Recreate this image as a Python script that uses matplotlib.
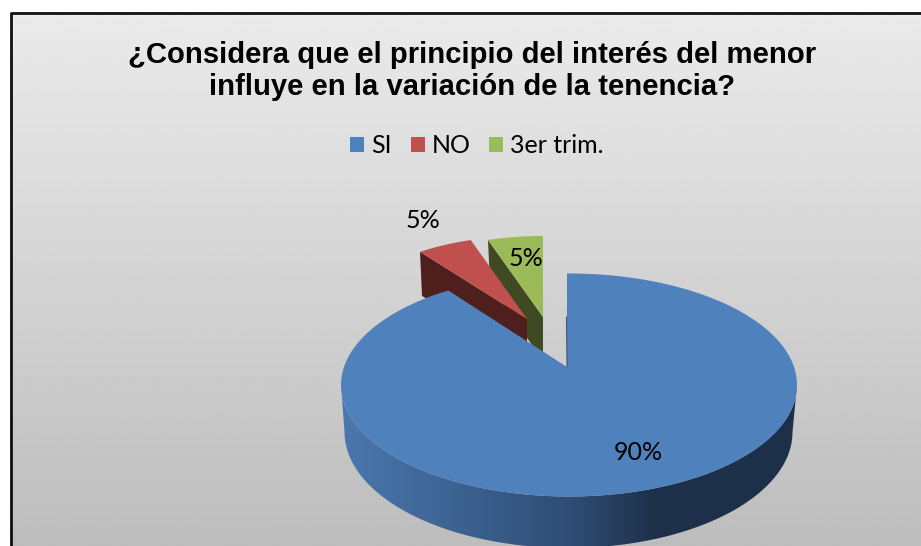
import numpy as np
import matplotlib
matplotlib.use('Agg')
import matplotlib.pyplot as plt
from matplotlib.patches import Polygon, Patch

# data
labels = ['SI', 'NO', '3er trim.']
values = [90, 5, 5]
colors = ['#4f81bd', '#c0504d', '#9bbb59']
wall_colors = ['#2f4d75', '#4f1f1d', '#3f4a22']
title = '¿Considera que el principio del interés del menor\ninfluye en la variación de la tenencia?'

# geometry of the fake 3d pie, in pixels of the picture
apex = [(567, 367), (527, 319), (543, 317)]
center = [(569, 385), (527, 319), (543, 317)]
radius = [(228, 111.5), (182, 83), (178, 81)]
depth = 47
label_pos = [(638, 453), (423, 221), (526, 258)]
W, H = 921, 546


def rim(c, r, a0, a1, n=200):
    t = np.radians(np.linspace(a0, a1, n))
    return np.column_stack([c[0] + r[0]*np.sin(t), c[1] - r[1]*np.cos(t)])


fig = plt.figure(figsize=(W/100, H/100), dpi=100)
ax = fig.add_axes([0, 0, 1, 1])
ax.axis('off')

# background with frame
grad = np.linspace(0.92, 0.74, 256).reshape(-1, 1)
ax.imshow(grad, cmap='gray', vmin=0, vmax=1, extent=[10, W, H, 12], aspect='auto', zorder=0)
ax.plot([10.5, 10.5, W], [H, 12.5, 12.5], color='#111111', lw=2, zorder=1)

# angles from the values, clockwise from 12 o'clock
shares = np.array(values)/sum(values)*360
ends = np.cumsum(shares)
starts = ends - shares
ends_sk = ends.copy()
ends_sk[0] += 4  # perspective of the big slice

# small slices, back to front: green, then red
for i in [2, 1]:
    edge = rim(center[i], radius[i], starts[i], ends[i], 40)
    a = np.array(apex[i], dtype=float)
    wall = np.array([edge[0], edge[0]+[2, depth-3], a+[0, depth-3], a])
    ax.add_patch(Polygon(wall, closed=True, fc=wall_colors[i], ec='none', zorder=2+(2-i)))
    ax.add_patch(Polygon(np.vstack([a, edge]), closed=True, fc=colors[i], ec='none', zorder=2+(2-i)))

# big slice: side wall with gradient, then the top
front = rim(center[0], radius[0], 90, 270)
low = rim((center[0][0]-0.5, center[0][1]+depth), (224, 116), 90, 270)
wall = Polygon(np.vstack([front, low[::-1]]), closed=True, fc='none', ec='none', zorder=5)
ax.add_patch(wall)
shade = np.zeros((2, 256, 3))
left = np.array([0x4a, 0x78, 0xae])/255
mid = np.array([0x2f, 0x4d, 0x75])/255
right = np.array([0x1d, 0x30, 0x4a])/255
x = np.linspace(341, 797, 256)
for k in range(3):
    shade[:, :, k] = np.interp(x, [341, 570, 655, 797], [left[k], mid[k], right[k], right[k]])
im = ax.imshow(shade, extent=[341, 797, 550, 380], aspect='auto', zorder=5)
im.set_clip_path(wall)

top = np.vstack([apex[0], rim(center[0], radius[0], -0.5, ends_sk[0], 400)])
ax.add_patch(Polygon(top, closed=True, fc=colors[0], ec='none', zorder=6))
ax.plot([apex[0][0], apex[0][0]-0.5], [apex[0][1], apex[0][1]-50], color='#2f4d75', lw=0.7, zorder=7)

ax.set_xlim(0, W)
ax.set_ylim(H, 0)

# texts
ax.text(472, 71, title, ha='center', va='center', fontsize=21.1, fontweight='bold',
        family='Liberation Sans', color='black', linespacing=1.17, zorder=8)
for v, p in zip(values, label_pos):
    ax.text(p[0], p[1], f'{v}%', ha='center', va='center', fontsize=18, family='Lato',
            color='black', zorder=8)

handles = [Patch(fc=c, ec='none') for c in colors]
ax.legend(handles, labels, loc='center', bbox_to_anchor=(477/W, 1-146/H), ncol=3, frameon=False,
          prop={'family': 'Lato', 'size': 18}, handlelength=0.56, handleheight=0.56,
          handletextpad=0.28, columnspacing=0.75, labelcolor='black')

fig.savefig('out.png', dpi=100)
